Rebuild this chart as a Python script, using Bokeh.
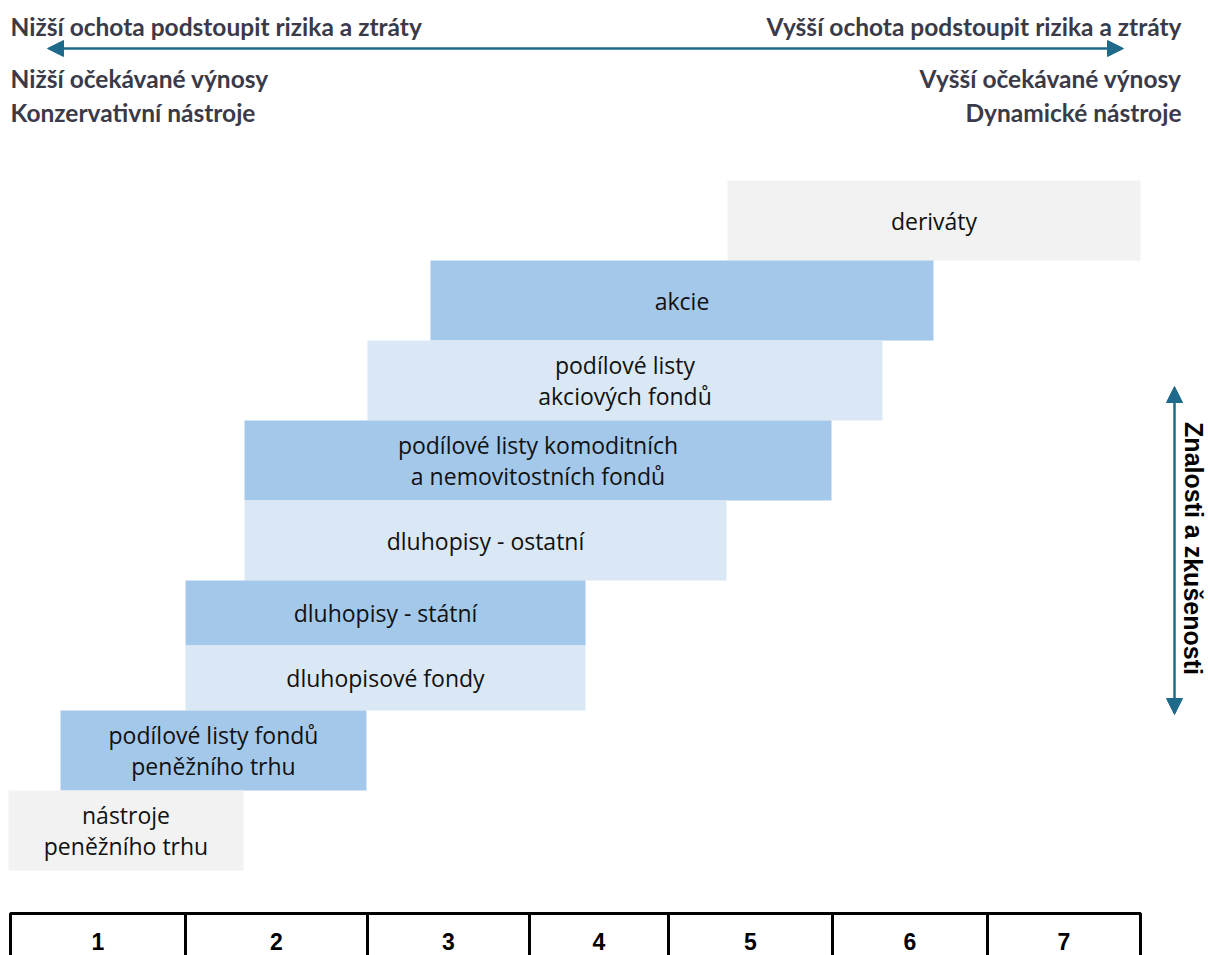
from bokeh.plotting import figure
from bokeh.models import Range1d, ColumnDataSource, Arrow, NormalHead
from bokeh.core.properties import value
from bokeh.embed import file_html
from bokeh.resources import INLINE

# --- data (positions on the chart's own horizontal scale) ---
instruments = ["deriváty", "akcie", "podílové listy\nakciových fondů",
               "podílové listy komoditních\na nemovitostních fondů",
               "dluhopisy - ostatní", "dluhopisy - státní", "dluhopisové fondy",
               "podílové listy fondů\npeněžního trhu", "nástroje\npeněžního trhu"]
range_start = [727, 430, 367, 244, 244, 185, 185, 60, 8]
range_end = [1140, 933, 882, 831, 726, 585, 585, 366, 243]
row_top = [180, 260, 340, 420, 500, 580, 645, 710, 790]
row_bottom = [260, 340, 420, 500, 580, 645, 710, 790, 870]
shade = ["#F2F2F2", "#A4C8EA", "#DAE8F6", "#A4C8EA", "#DAE8F6",
         "#A4C8EA", "#DAE8F6", "#A4C8EA", "#F2F2F2"]

scale_labels = ["1", "2", "3", "4", "5", "6", "7"]
scale_edges = [10, 185, 367, 529, 668, 832, 987, 1140]

left_texts = ["Nižší ochota podstoupit rizika a ztráty", "Nižší očekávané výnosy", "Konzervativní nástroje"]
right_texts = ["Vyšší ochota podstoupit rizika a ztráty", "Vyšší očekávané výnosy", "Dynamické nástroje"]
header_rows = [26, 78, 112]
side_title = "Znalosti a zkušenosti"

ARROW = "#1F6A8A"
HEAD = "#3A3A48"

p = figure(width=1208, height=955, x_range=Range1d(0, 1208), y_range=Range1d(955, 0),
           output_backend="svg", toolbar_location=None, min_border=0)
p.axis.visible = False
p.grid.visible = False
p.outline_line_color = None
p.background_fill_color = "white"
p.border_fill_color = "white"

src = ColumnDataSource(dict(name=instruments, l=range_start, r=range_end, t=row_top, b=row_bottom,
                            c=shade, x=[(a + b) / 2 for a, b in zip(range_start, range_end)],
                            y=[(a + b) / 2 for a, b in zip(row_top, row_bottom)]))
p.quad(left="l", right="r", top="t", bottom="b", fill_color="c", line_color=None, source=src)
p.text(x="x", y="y", text="name", source=src, text_align="center", text_baseline="middle",
       text_font=value("Open Sans"), text_font_size="23px", text_color="#111111",
       text_line_height=0.96)

# scale row
cl = scale_edges[:-1]
cr = scale_edges[1:]
sc = ColumnDataSource(dict(l=cl, r=cr, lab=scale_labels, x=[(a + b) / 2 for a, b in zip(cl, cr)]))
p.quad(left="l", right="r", top=913, bottom=990, fill_color="white", line_color="black",
       line_width=3, source=sc)
p.text(x="x", y=941, text="lab", source=sc, text_align="center", text_baseline="middle",
       text_font=value("Liberation Sans"), text_font_style="bold", text_font_size="23px",
       text_color="black")

# header texts
p.text(x=[10] * 3, y=header_rows, text=left_texts, text_align="left", text_baseline="middle",
       text_font=value("Lato"), text_font_style="bold", text_font_size="24.5px", text_color=HEAD)
p.text(x=[1181] * 3, y=header_rows, text=right_texts, text_align="right", text_baseline="middle",
       text_font=value("Lato"), text_font_style="bold", text_font_size="24.5px", text_color=HEAD)

# arrows
p.add_layout(Arrow(start=NormalHead(size=16, fill_color=ARROW, line_color=ARROW),
                   end=NormalHead(size=16, fill_color=ARROW, line_color=ARROW),
                   x_start=47, y_start=48, x_end=1123, y_end=48,
                   line_color=ARROW, line_width=2.5))
p.add_layout(Arrow(start=NormalHead(size=16, fill_color=ARROW, line_color=ARROW),
                   end=NormalHead(size=16, fill_color=ARROW, line_color=ARROW),
                   x_start=1174, y_start=386, x_end=1174, y_end=714,
                   line_color=ARROW, line_width=2.5))
p.text(x=[1193], y=[548], text=[side_title], angle=-1.5708, text_align="center",
       text_baseline="middle", text_font=value("Liberation Sans"), text_font_style="bold",
       text_font_size="25px", text_color="black")

open("out.html", "w").write(file_html(p, INLINE))
